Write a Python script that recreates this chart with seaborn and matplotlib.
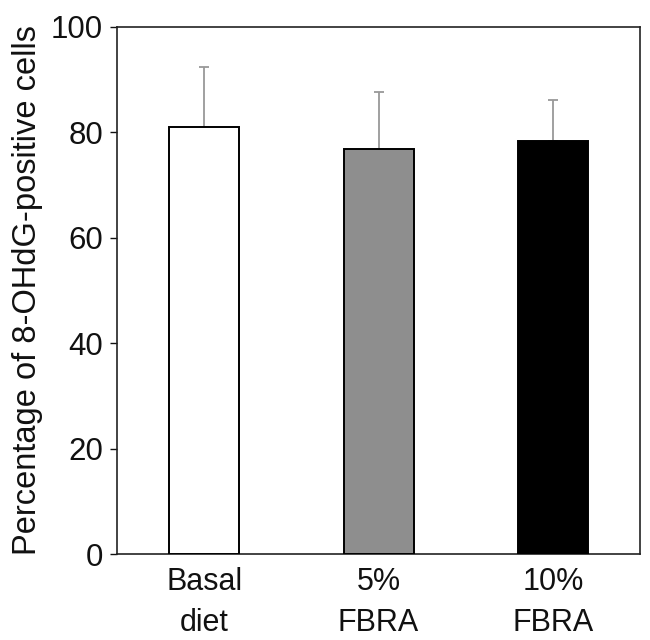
import numpy as np
import pandas as pd
import matplotlib
matplotlib.use('Agg')
import matplotlib.pyplot as plt
import seaborn as sns

# Data
groups = ['Basal\ndiet', '5%\nFBRA', '10%\nFBRA']
means = [81.1, 76.8, 78.4]
sds = [11.2, 10.8, 7.7]
bar_colors = ['#ffffff', '#8e8e8e', '#000000']

df = pd.DataFrame({'group': groups, 'pct': means})

sns.set_style('ticks')
plt.rcParams['font.family'] = ['Liberation Sans', 'DejaVu Sans']
plt.rcParams['text.color'] = '#111111'
plt.rcParams['axes.labelcolor'] = '#111111'
plt.rcParams['xtick.color'] = '#111111'
plt.rcParams['ytick.color'] = '#111111'

fig = plt.figure(figsize=(6.5, 6.4), dpi=100)
ax = fig.add_axes([0.18, 0.134, 0.805, 0.824])

sns.barplot(data=df, x='group', y='pct', hue='group', palette=bar_colors,
            width=0.4, edgecolor='black', linewidth=1.4, legend=False,
            errorbar=None, ax=ax, zorder=3)

# upper-only error bars
ax.errorbar(np.arange(len(groups)), means, yerr=[np.zeros(len(sds)), sds],
            fmt='none', ecolor='#999999', elinewidth=1.3, capsize=3.5,
            capthick=1.3, zorder=2)

ax.set_xlim(-0.5, 2.5)
ax.set_ylim(0, 100)
ax.set_yticks([0, 20, 40, 60, 80, 100])
ax.set_xlabel('')
ax.set_ylabel('Percentage of 8-OHdG-positive cells', fontsize=23.5, labelpad=6)
ax.tick_params(axis='y', labelsize=22.5, length=5, width=1, direction='out', pad=5)
ax.tick_params(axis='x', labelsize=22, length=0, pad=9)
for lbl in ax.get_xticklabels():
    lbl.set_linespacing(1.5)
for s in ax.spines.values():
    s.set_visible(True)
    s.set_linewidth(1.2)
    s.set_color('#222222')

fig.savefig('out.png', dpi=100)
plt.close(fig)
